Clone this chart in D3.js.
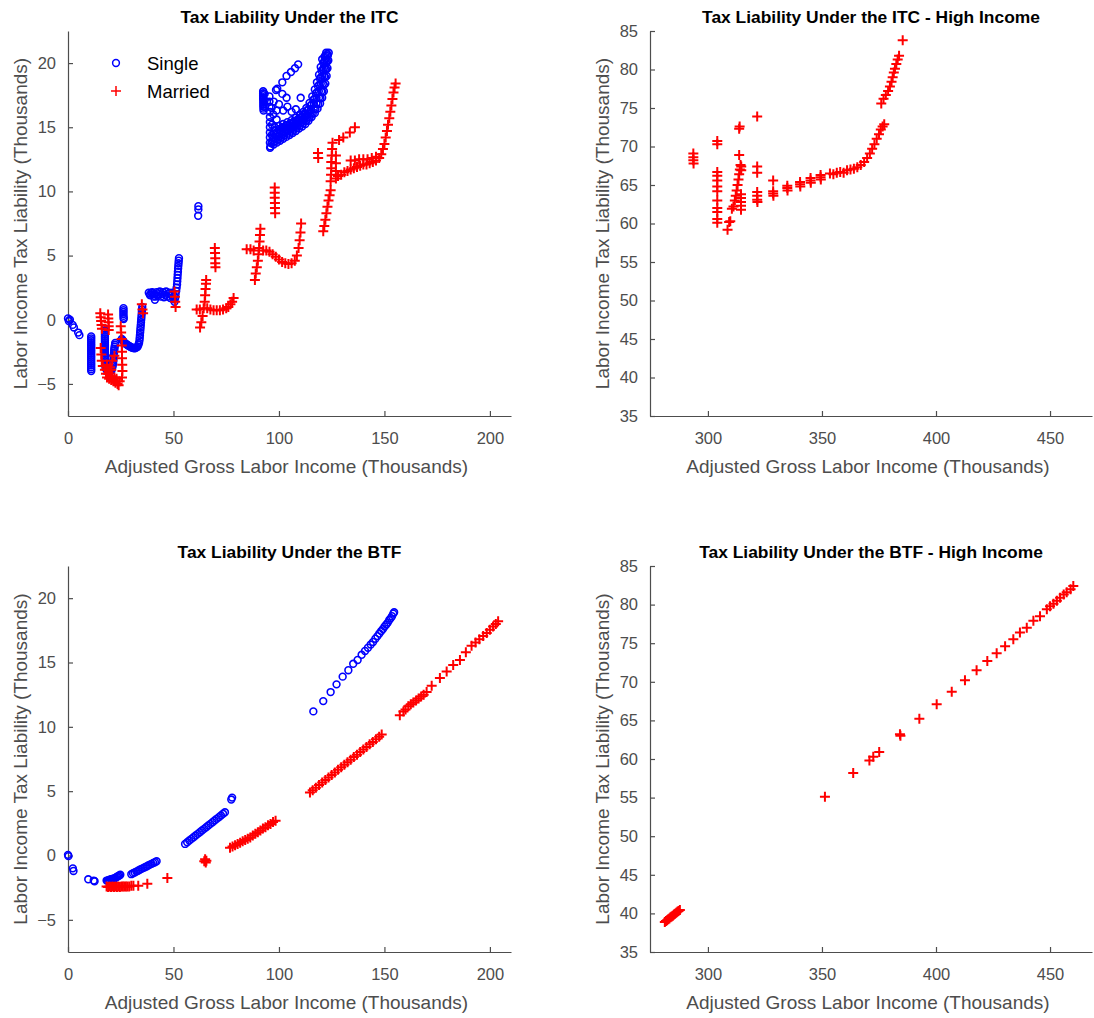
<!DOCTYPE html>
<html><head><meta charset="utf-8">
<script src="https://cdn.jsdelivr.net/npm/d3@7"></script>
<style>body{margin:0;background:#fff}svg{display:block}text{font-family:"Liberation Sans",Arial,Helvetica,sans-serif}</style>
</head><body><svg id="c" width="1094" height="1018"></svg>
<script>
// ---------- data (thousands) ----------
const leftXTicks = [0, 50, 100, 150, 200];
const leftYTicks = [-5, 0, 5, 10, 15, 20];
const rightXTicks = [300, 350, 400, 450];
const rightYTicks = [35, 40, 45, 50, 55, 60, 65, 70, 75, 80, 85];
const seriesNames = ["Single", "Married"];

const itcSingle = [
 [0,0.1],[0.4,-0.1],[0.9,0],[2.2,-0.4],[2.8,-0.6],[4.8,-1.0],[5.4,-1.2],
 [11,-1.3],[11,-1.45],[11,-1.6],[11,-1.75],[11,-1.9],[11,-2.05],[11,-2.2],[11,-2.35],[11,-2.5],[11,-2.65],[11,-2.8],[11,-2.95],[11,-3.1],[11,-3.25],[11,-3.4],[11,-3.55],[11,-3.7],[11,-3.85],[11,-4.0],
 [17.5,-0.7],[17.5,-0.85],[17.5,-1.0],[17.5,-1.15],[17.5,-1.3],[17.5,-1.45],[17.5,-1.6],[17.5,-1.75],[17.5,-1.9],[17.5,-2.05],[17.5,-2.2],[17.5,-2.35],[17.5,-2.5],[17.5,-2.65],[17.5,-2.8],[17.5,-2.95],[17.5,-3.1],[17.6,-3.25],[17.6,-3.4],[17.7,-3.55],[17.8,-3.7],[18,-3.8],[18.3,-3.9],
 [18.7,-3.95],[19,-4.0],[19.4,-4.05],[19.8,-4.05],[20.2,-4.0],[20.6,-3.95],[20.9,-3.8],[21.2,-3.6],[21.4,-3.4],[21.5,-3.2],[21.6,-3.0],[21.7,-2.8],[21.8,-2.6],[21.9,-2.4],[22,-2.25],[22.1,-2.1],[22.3,-1.95],[22.4,-1.8],[20.9,-3.4],[20.6,-3.0],
 [26.3,0.9],[26.3,0.75],[26.3,0.6],[26.3,0.45],[26.3,0.3],[26.4,0.15],[26.4,0.05],
 [25.5,-1.5],[25.9,-1.6],[26.3,-1.7],[26.8,-1.8],[27.2,-1.85],[27.6,-1.9],[28,-1.95],[28.5,-2.0],[29,-2.05],[29.5,-2.1],[30,-2.15],[30.5,-2.18],[31,-2.2],[31.5,-2.22],[32,-2.2],[32.5,-2.15],[33,-2.1],[33.4,-1.95],[33.7,-1.8],[33.9,-1.6],[34,-1.4],[34.1,-1.2],[34.2,-1.0],[34.3,-0.8],[34.4,-0.6],[34.5,-0.4],[34.6,-0.2],[34.7,0],[34.8,0.2],[34.9,0.4],[35,0.6],[35.1,0.8],[35.2,1.0],
 [38.3,2.1],[38.8,1.95],[39,1.9],[39.5,2.1],[40,2.15],[40.5,1.8],[40.8,2.0],[41.2,1.55],[41.6,1.8],[42,2.15],[42.5,1.85],[43,2.0],[43.5,2.2],[44,1.8],[44.5,2.0],[45,2.15],[45.5,1.75],[46,1.95],[46.5,2.2],[47,1.8],[47.5,2.0],[48,2.1],[48.5,1.7],[49,1.9],[49.5,2.1],[50,1.6],[50.3,1.85],[50.5,1.4],[50.8,1.7],[51,2.0],
 [51.3,2.25],[51.5,2.5],[51.7,2.75],[51.8,3.0],[51.9,3.25],[52,3.5],[52.1,3.75],[52.2,4.0],[52.3,4.2],[52.4,4.4],[52.5,4.6],[52.6,4.8],
 [61.8,8.85],[61.8,8.6],[61.7,8.1],
 [92.5,17.8],[92.5,17.65],[92.5,17.5],[92.5,17.35],[92.5,17.2],[92.6,17.05],[92.6,16.9],[92.6,16.75],[92.6,16.6],[92.7,16.45],[92.7,16.3],[93.2,17.6],[93.2,17.1],[93.3,16.6],
 [95.5,17.4],[95.5,17.0],[95.5,16.6],[95.7,16.2],[95.7,15.8],[95.7,15.4],[95.7,15.0],[95.7,14.6],[95.7,14.2],[95.7,13.8],[95.8,13.4],
 [99.2,18.0],[101.6,18.5],[103.6,19.0],[105.7,19.3],[107.6,19.6],[109.1,19.9],
 [98.6,17.9],[101.6,17.6],[103.6,17.3],[110.3,17.3],[98.9,16.3],[102,16.3],[98.9,15.6],[110,16.0],[112.3,16.0],
 [96,13.5],[97.5,13.65],[99,13.8],[100.5,13.95],[102,14.1],[103.5,14.25],[105,14.4],[106.5,14.55],[108,14.7],[109.5,14.9],[111,15.05],[112.5,15.25],[114,15.5],[115.5,15.8],[117,16.1],[118.3,16.45],[119.5,16.85],[120.5,17.3],[121.3,17.8],[122,18.4],[122.6,19.0],[123,19.6],[123.4,20.2],[123.6,20.8],
 [96.5,13.75],[98,13.9],[99.5,14.05],[101,14.2],[102.5,14.35],[104,14.5],[105.5,14.65],[107,14.8],[108.5,14.95],[110,15.12],[111.5,15.3],[113,15.5],[114.5,15.75],[116,16.05],[117.3,16.4],[118.6,16.8],[119.7,17.25],[120.6,17.75],[121.3,18.3],[121.9,18.9],[122.4,19.5],[122.8,20.1],[123.2,20.6],
 [97,14.0],[98.5,14.15],[100,14.3],[101.5,14.45],[103,14.6],[104.5,14.75],[106,14.9],[107.5,15.05],[109,15.2],[110.5,15.35],[112,15.55],[113.5,15.8],[115,16.1],[116.5,16.45],[117.8,16.85],[119,17.3],[120,17.8],[120.8,18.4],[121.5,19.0],[122.1,19.6],[122.6,20.2],[123,20.7],
 [97.3,14.25],[98.8,14.4],[100.3,14.55],[101.8,14.7],[103.3,14.82],[104.8,14.97],[106.3,15.1],[107.8,15.25],[109.3,15.4],[110.8,15.58],[112.3,15.8],[113.8,16.08],[115.2,16.4],[116.6,16.8],[117.8,17.3],[118.9,17.8],[119.8,18.4],[120.6,19.0],[121.3,19.6],[121.9,20.2],[122.4,20.8],
 [97.5,14.5],[99,14.6],[100.5,14.75],[102,14.9],[103.5,15.0],[105,15.15],[106.5,15.3],[108,15.45],[109.5,15.6],[111,15.8],[112.5,16.05],[114,16.35],[115.5,16.75],[116.8,17.2],[118,17.7],[119,18.3],[119.9,18.9],[120.7,19.5],[121.4,20.1],[122,20.6],
 [98,14.75],[99.8,14.85],[101.6,15.0],[103.4,15.15],[105.2,15.3],[107,15.45],[108.8,15.6],[110.5,15.8],[112,16.05],[113.5,16.35],[115,16.7],[116.3,17.15],[117.5,17.65],[118.5,18.2],[119.4,18.8],[120.2,19.4],[121,20.0],[121.6,20.5],
 [98,15.0],[100,15.1],[102,15.25],[104,15.4],[106,15.55],[108,15.75],[110,15.95],[111.5,16.2],[113,16.5],[114.5,16.9],[115.8,17.4],[117,17.95],[118,18.5],[119,19.1],[119.8,19.7],[120.5,20.3],
 [96.5,16.5],[97.5,17.0],[100,16.8],[104,16.6],[106,16.2],[108,16.4],[96.7,15.2],[96.6,14.4],[97.3,16.0]
];
const itcMarried = [
 [15.3,0.5],[15.5,0.2],[15.7,-0.1],[15.9,-0.4],[16.1,-0.7],[19,0.4],[19.1,0.1],[19.2,-0.2],[19.3,-0.5],[19.3,-0.8],
 [15.5,-2.2],[15.8,-2.7],[16,-3.2],[16.5,-3.6],[17.5,-3.9],[18,-4.2],[18.5,-4.5],[19,-4.2],[19.5,-4.6],[20,-4.4],[20.5,-4.7],[21,-4.4],[21.5,-4.8],[22,-4.5],[22.5,-4.9],[23,-4.6],[23.5,-5.0],[24,-5.1],[24.5,-4.8],[20,-3.7],[21,-3.2],[22,-2.8],[20.5,-3.9],[18.5,-3.5],[19.5,-3.9],
 [25,-0.5],[25.2,-1.0],[25.4,-1.5],[25.5,-2.0],[25.6,-2.5],[25.6,-3.0],[25.7,-3.5],[25.8,-4.0],[25.6,-4.5],
 [35,1.2],[35.3,0.8],[35.6,0.5],
 [50.5,2.2],[50.7,1.8],[50.8,1.4],[51,1.0],
 [62.6,-0.6],[63.2,-0.2],[63.8,0.3],[64.3,0.9],[64.8,1.4],[65,1.9],[65.2,2.4],[65.4,2.8],[65.5,3.1],
 [61,0.8],[62.5,0.8],[66,0.9],[67.5,0.8],[69,0.75],[70.5,0.75],[72,0.75],[73.5,0.8],[75,0.9],[76,1.0],[77,1.2],[77.8,1.4],[78.5,1.7],
 [69.6,5.6],[69.7,5.2],[69.8,4.8],[69.8,4.4],[69.9,4.1],
 [88.6,3.1],[89,3.6],[89.5,4.1],[90,4.6],[90.3,5.1],[90.6,5.6],[90.8,6.1],[91,6.6],[91.2,7.1],
 [84.7,5.5],[86.5,5.5],[88,5.4],[92.5,5.4],[94,5.4],[95.5,5.3],[97,5.1],[98.5,4.9],[100,4.7],[101.5,4.5],[103,4.4],[104.5,4.35],[106,4.4],[107.5,4.6],[108.5,5.0],[109.3,5.6],[109.8,6.2],[110.2,6.8],[110.5,7.5],
 [98,10.3],[98,9.9],[98,9.5],[98.1,9.1],[98.1,8.7],[98.2,8.3],
 [121,6.9],[121.5,7.3],[122,7.8],[122.5,8.3],[123,8.8],[123.5,9.3],[124,9.7],[124.5,10.1],
 [118.5,13.0],[118.6,12.6],
 [124.5,10.8],[124.7,11.3],[124.8,11.8],[124.8,12.3],[125,12.8],[125.2,13.3],[125.4,13.8],[127,11.0],[127,11.6],[127,12.2],[127,12.8],
 [128.5,14.0],[130.5,14.2],[133.6,14.6],[136,15.0],
 [128,11.2],[129.5,11.3],[131,11.5],[132.5,11.6],[134,11.7],[135.5,11.8],[137,11.9],[138.5,12.0],[140,12.1],[141.5,12.1],[143,12.2],[144.5,12.3],[146,12.4],[147.5,12.6],[148.5,12.9],[149.3,13.3],[150,13.7],[150.6,14.2],[151.2,14.7],[151.7,15.2],[152.3,15.7],[152.8,16.2],[153.3,16.7],[153.8,17.2],[154.3,17.7],[154.8,18.1],[155.3,18.4],
 [134,12.4],[136,12.4],[138,12.5],[140,12.5],[142,12.5],[144,12.6],[146,12.7]
];
const itcHighMarried = [
 [293.6,69.1],[293.6,68.6],[293.6,68.2],[293.7,67.8],
 [304.1,70.7],[304.1,70.3],
 [304.1,66.7],[304.1,66.2],[304.1,65.6],[304.1,64.8],[304.1,64.2],[304.1,63.0],[304.1,62.0],[304.1,61.5],[304.1,60.6],[304.1,60.1],
 [308.6,59.2],[309.3,60.2],[309.8,60.3],
 [310.5,61.9],[311.2,62.2],[311.8,63.0],[312.2,63.6],[312.6,64.3],[313,65.0],[313.4,65.7],[313.7,66.4],[314,67.0],[314.3,67.6],[313.7,68.9],[313.7,72.3],[313.9,72.6],
 [314.5,61.8],[314.5,62.3],[314.5,62.8],[314.5,63.3],[314.5,63.8],[314.6,66.9],[314.6,67.4],
 [321.6,73.9],[321.6,67.4],[321.6,66.6],[321.6,64.1],[321.6,63.6],[321.6,63.1],[321.7,62.8],
 [328.6,65.6],[328.6,64.2],[328.6,63.9],[328.7,63.6],
 [334.8,64.9],[334.8,64.6],[334.9,64.3],
 [340.4,65.4],[340.4,65.1],[340.5,64.8],
 [345,65.9],[345,65.6],[345.1,65.3],
 [349.4,66.3],[349.4,66.0],[349.5,65.7],
 [353.5,66.5],[355,66.4],[356.5,66.6],[358,66.7],[359.5,66.6],[361,66.9],[362.5,67.0],[364,67.1],[365.5,67.3],[367,67.6],[368.5,68.0],[369.8,68.5],[371,69.1],[372,69.7],[373,70.3],[374,71.0],[375,71.6],[375.8,72.2],[376.6,72.6],[377.3,72.9],
 [376,75.6],[377,76.2],[378,76.7],[379,77.2],[379.8,77.8],[380.5,78.4],[381,79.0],[381.5,79.6],[382,80.1],[382.6,80.7],[383.2,81.3],[383.8,81.8],[385.4,83.8]
];
const btfSingle = [
 [0,0.05],[0.2,-0.05],[2.3,-1.0],[2.6,-1.2],[9.6,-1.85],[12.2,-1.95],[12.6,-2.0],
 [18.3,-1.95],[18.8,-1.95],[19.3,-1.9],[19.8,-1.9],[20.3,-1.85],[20.8,-1.85],[21.3,-1.8],[21.8,-1.8],[22.3,-1.75],[22.8,-1.7],[23.3,-1.65],[23.8,-1.6],[24.3,-1.55],[24.8,-1.5],
 [30,-1.45],[30.8,-1.38],[31.6,-1.32],[32.4,-1.25],[33.2,-1.18],[34,-1.11],[34.8,-1.04],[35.6,-0.98],[36.4,-0.91],[37.2,-0.85],[38,-0.78],[38.8,-0.71],[39.6,-0.65],[40.4,-0.58],[41.2,-0.52],[42,-0.45],
 [55.5,0.9],[56.5,1.03],[57.5,1.16],[58.5,1.29],[59.5,1.42],[60.5,1.55],[61.5,1.68],[62.5,1.81],[63.5,1.94],[64.5,2.07],[65.5,2.2],[66.5,2.33],[67.5,2.46],[68.5,2.59],[69.5,2.72],[70.5,2.85],[71.5,2.98],[72.5,3.11],[73.5,3.24],[74.4,3.36],
 [77.4,4.35],[77.8,4.5],
 [116.3,11.2],[121,12.0],[124.5,12.7],[127.3,13.3],[130.2,13.9],[132.9,14.4],[135.2,14.9],[137.3,15.2],[139.2,15.6],[140.8,15.9],[142.2,16.15],[143.5,16.4],[144.6,16.6],[145.7,16.85],[146.7,17.05],[147.6,17.25],[148.5,17.45],[149.3,17.6],[150.1,17.8],[150.9,17.95],[151.6,18.1],[152.3,18.3],[153,18.45],[153.6,18.6],[154.2,18.8],[154.6,18.9]
];
const btfMarried = [
 [18.3,-2.4],[19,-2.45],[19.7,-2.4],[20.4,-2.45],[21.1,-2.4],[21.8,-2.45],[22.5,-2.4],[23.2,-2.45],[23.9,-2.4],[24.6,-2.45],[25.3,-2.4],[26,-2.4],[26.7,-2.4],[27.4,-2.4],[28.1,-2.4],[29,-2.4],[30,-2.35],[31,-2.35],[33.3,-2.35],[37.6,-2.2],[47.1,-1.75],
 [64.6,-0.45],[65,-0.3],[65.3,-0.55],[65.6,-0.4],
 [76.8,0.6],[78,0.7],[79.2,0.8],[80.4,0.9],[81.6,1.0],[82.8,1.1],[84,1.2],[85.2,1.3],[86.4,1.4],[87.6,1.55],[88.8,1.7],[90,1.8],[91.2,1.95],[92.4,2.1],[93.6,2.2],[94.8,2.35],[96,2.45],[97.2,2.6],[98.4,2.7],
 [114.7,4.9],[116,5.07],[117.5,5.27],[119,5.47],[120.5,5.67],[122,5.86],[123.5,6.06],[125,6.26],[126.5,6.46],[128,6.66],[129.5,6.85],[131,7.05],[132.5,7.25],[134,7.45],[135.5,7.65],[137,7.84],[138.5,8.04],[140,8.24],[141.5,8.44],[143,8.64],[144.5,8.83],[146,9.03],[147.5,9.23],[148.7,9.4],
 [157.3,10.9],[159,11.2],[160,11.35],[161.3,11.6],[162.5,11.75],[163.7,11.9],[165,12.05],[166.2,12.2],[167.4,12.35],[168.6,12.5],[170,12.7],[172.4,13.2],[176.3,13.8],[179.5,14.3],[182.6,14.8],[185.8,15.2],[188.6,15.8],[191.3,16.3],[193.2,16.55],[195,16.8],[196.8,17.05],[198.5,17.3],[200,17.55],[201.5,17.8],[202.8,18.0],[203.9,18.2]
];
const btfHighMarried = [
 [281.1,38.9],[281.6,39.0],[282.1,39.1],[282.6,39.25],[283.1,39.35],[283.6,39.5],[284.1,39.6],[284.6,39.7],[285.1,39.85],[285.6,39.95],[286.1,40.1],[286.6,40.2],[287.1,40.3],[287.7,40.45],
 [351.3,55.1],[363.7,58.2],[370.8,59.8],[372.5,60.3],[375.1,60.9],[384.2,63.2],[384.4,63.0],[392.7,65.2],[400.3,67.1],[406.9,68.7],[412.7,70.2],[417.8,71.5],[422.5,72.7],[426.6,73.7],[430.3,74.6],[433.9,75.5],[436.8,76.4],[439.8,77.0],[442.7,77.9],[445.6,78.5],[448.6,79.4],[450,79.8],[451.5,80.1],[453,80.5],[454.4,80.9],[456,81.3],[457.3,81.6],[459,82.0],[460.2,82.4]
];

// ---------- drawing ----------
const svg = d3.select("#c");
const AX = "#4d4d4d";
const XLAB = "Adjusted Gross Labor Income (Thousands)";
const YLAB = "Labor Income Tax Liability (Thousands)";
const plusPath = "M-5,0H5M0,-5V5";

function panel(o){
  const x = d3.scaleLinear().domain(o.xd).range([o.l, o.r]);
  const y = d3.scaleLinear().domain(o.yd).range([o.b, o.t]);
  const g = svg.append("g");
  const xa = g.append("g").attr("transform", `translate(0,${o.b})`)
    .call(d3.axisBottom(x).tickValues(o.xt).tickSize(-5).tickSizeOuter(0).tickPadding(16));
  const ya = g.append("g").attr("transform", `translate(${o.l},0)`)
    .call(d3.axisLeft(y).tickValues(o.yt).tickSize(-5).tickSizeOuter(0).tickPadding(12));
  [xa, ya].forEach(a => {
    a.select(".domain").attr("stroke", AX).attr("stroke-width", 1.2);
    a.selectAll(".tick line").attr("stroke", AX).attr("stroke-width", 1.2);
    a.selectAll(".tick text").attr("fill", AX).style("font-size", "16.5px").style("font-family", '"Liberation Sans",Arial,sans-serif');
  });
  g.append("text").attr("x", (o.l + o.r) / 2).attr("y", o.t - 8).attr("text-anchor", "middle")
    .style("font-weight", "bold").style("font-size", "17.4px").attr("fill", "#000").text(o.title);
  g.append("text").attr("x", (o.l + o.r) / 2 - 3).attr("y", o.b + 57).attr("text-anchor", "middle")
    .style("font-size", "19px").attr("fill", AX).text(XLAB);
  g.append("text").attr("transform", `translate(${o.l - 41},${(o.t + o.b) / 2}) rotate(-90)`).attr("text-anchor", "middle")
    .style("font-size", "19px").attr("fill", AX).text(YLAB);
  if (o.single) {
    g.append("g").selectAll("circle").data(o.single).join("circle")
      .attr("cx", d => x(d[0])).attr("cy", d => y(d[1])).attr("r", 3.4)
      .attr("fill", "none").attr("stroke", "#0000ff").attr("stroke-width", 1.6);
  }
  if (o.married) {
    g.append("g").selectAll("path").data(o.married).join("path")
      .attr("transform", d => `translate(${x(d[0])},${y(d[1])})`).attr("d", plusPath)
      .attr("fill", "none").attr("stroke", "#ff0000").attr("stroke-width", 2);
  }
  if (o.legend) {
    const lg = g.append("g");
    lg.append("circle").attr("cx", 116).attr("cy", 63).attr("r", 3.4).attr("fill", "none").attr("stroke", "#0000ff").attr("stroke-width", 1.5);
    lg.append("text").attr("x", 147).attr("y", 70).style("font-size", "18.5px").attr("fill", "#000").text(seriesNames[0]);
    lg.append("path").attr("transform", "translate(116,91)").attr("d", plusPath).attr("stroke", "#ff0000").attr("stroke-width", 1.5);
    lg.append("text").attr("x", 147).attr("y", 98).style("font-size", "18.5px").attr("fill", "#000").text(seriesNames[1]);
  }
}

panel({l:68, r:511, t:31, b:416, xd:[0,210], yd:[-7.5,22.5], xt:leftXTicks, yt:leftYTicks,
  title:"Tax Liability Under the ITC", single:itcSingle, married:itcMarried, legend:true});
panel({l:650, r:1092, t:31, b:416, xd:[274.6,468.4], yd:[35,85], xt:rightXTicks, yt:rightYTicks,
  title:"Tax Liability Under the ITC - High Income", married:itcHighMarried});
panel({l:68, r:511, t:566, b:952, xd:[0,210], yd:[-7.5,22.5], xt:leftXTicks, yt:leftYTicks,
  title:"Tax Liability Under the BTF", single:btfSingle, married:btfMarried});
panel({l:650, r:1092, t:566, b:952, xd:[274.6,468.4], yd:[35,85], xt:rightXTicks, yt:rightYTicks,
  title:"Tax Liability Under the BTF - High Income", married:btfHighMarried});
</script></body></html>
